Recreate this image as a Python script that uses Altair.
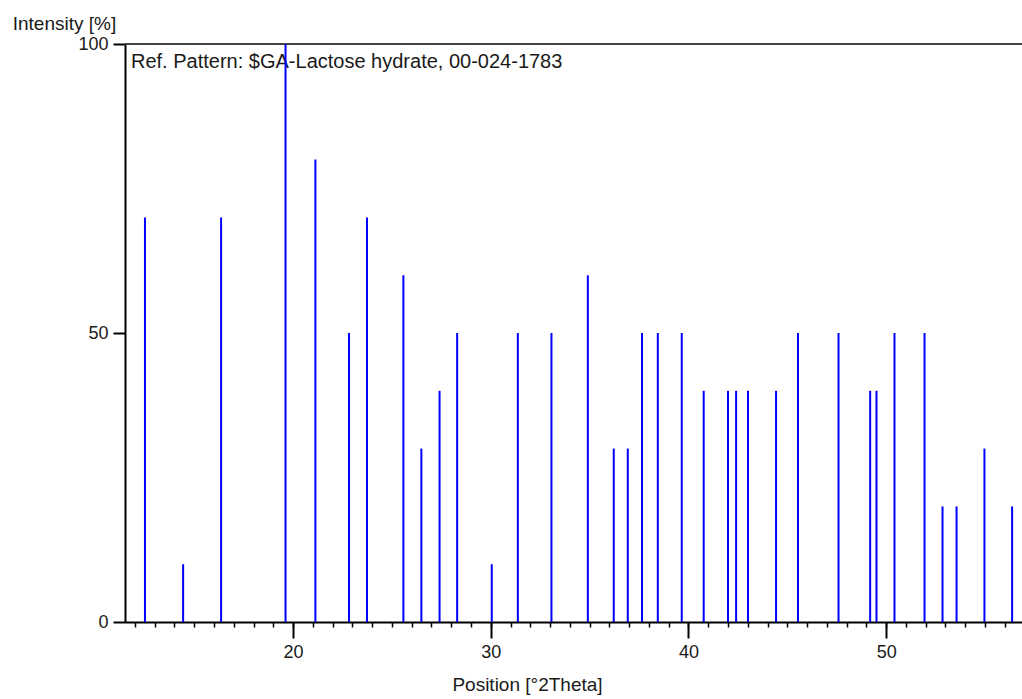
import altair as alt
import pandas as pd

# Reference pattern lines (position in °2Theta, relative intensity in %)
positions = [12.51, 14.44, 16.36, 19.62, 21.13, 22.83, 23.74, 25.58, 26.49, 27.41,
             28.30, 30.05, 31.37, 33.07, 34.91, 36.22, 36.93, 37.65, 38.45, 39.66,
             40.77, 42.00, 42.41, 43.01, 44.43, 45.54, 47.59, 49.19, 49.51, 50.42,
             51.94, 52.85, 53.56, 54.97, 56.37]
intensities = [70, 10, 70, 100, 80, 50, 70, 60, 30, 40,
               50, 10, 50, 50, 60, 30, 30, 50, 50, 50,
               40, 40, 40, 40, 40, 50, 50, 40, 40, 50,
               50, 20, 20, 30, 20]

x_major_ticks = [20, 30, 40, 50]
x_minor_ticks = list(range(12, 57))
y_ticks = [0, 50, 100]
top_value = [100]
ref_label = "Ref. Pattern: $GA-Lactose hydrate, 00-024-1783"
x_title = "Position [°2Theta]"
y_title = "Intensity [%]"

FONT = "Liberation Sans"
TXT = "#1a1a1a"

df = pd.DataFrame({"pos": positions, "intensity": intensities})

x_scale = alt.Scale(domain=[11.5, 56.87], nice=False, zero=False)
y_scale = alt.Scale(domain=[0, 100], nice=False, zero=True)

y_axis = alt.Axis(
    values=y_ticks, title=y_title, titleAngle=0, titleX=-61, titleY=-15,
    titleAlign="center", titleBaseline="alphabetic", titleFontSize=19,
    titleFontWeight="normal", titleFont=FONT, titleColor=TXT,
    labelFontSize=18, labelFont=FONT, labelColor=TXT, labelPadding=5,
    tickSize=12, tickColor="black", tickWidth=2,
    domainColor="black", domainWidth=2, grid=False,
)

x_axis_major = alt.Axis(
    values=x_major_ticks, format="d", title=x_title, titleX=402, titleY=68,
    titleAlign="center", titleBaseline="alphabetic", titleFontSize=19,
    titleFontWeight="normal", titleFont=FONT, titleColor=TXT,
    labelFontSize=18, labelFont=FONT, labelColor=TXT, labelPadding=5,
    tickSize=16, tickColor="black", tickWidth=2,
    domainColor="black", domainWidth=2, grid=False, orient="bottom",
)

x_axis_minor = alt.Axis(
    values=x_minor_ticks, labels=False, title=None, tickSize=5,
    tickColor="black", tickWidth=1.5, domain=False, grid=False, orient="bottom",
)

text_layer = alt.Chart(pd.DataFrame({"t": [ref_label]})).mark_text(
    align="left", baseline="alphabetic", fontSize=20, font=FONT, color=TXT
).encode(x=alt.value(6), y=alt.value(24), text="t:N")

top_line = alt.Chart(pd.DataFrame({"v": top_value})).mark_rule(
    color="#444444", strokeWidth=2
).encode(y=alt.Y("v:Q", scale=y_scale, axis=y_axis))

lines = alt.Chart(df).mark_rule(color="#0000ff", strokeWidth=2).encode(
    x=alt.X("pos:Q", scale=x_scale, axis=x_axis_major),
    y=alt.Y("intensity:Q", scale=y_scale, axis=y_axis),
    y2=alt.datum(0),
)

minor = alt.Chart(df).mark_rule(opacity=0).encode(
    x=alt.X("pos:Q", scale=x_scale, axis=x_axis_minor),
)

chart = alt.layer(text_layer, top_line, lines, minor).resolve_axis(
    x="independent"
).properties(
    width=897, height=578,
    autosize=alt.AutoSizeParams(type="none"),
    padding={"left": 125, "top": 44, "right": 0, "bottom": 77},
    background="white",
).configure_view(stroke=None)

chart.save("out.html", embed_options={"renderer": "svg", "actions": False})
